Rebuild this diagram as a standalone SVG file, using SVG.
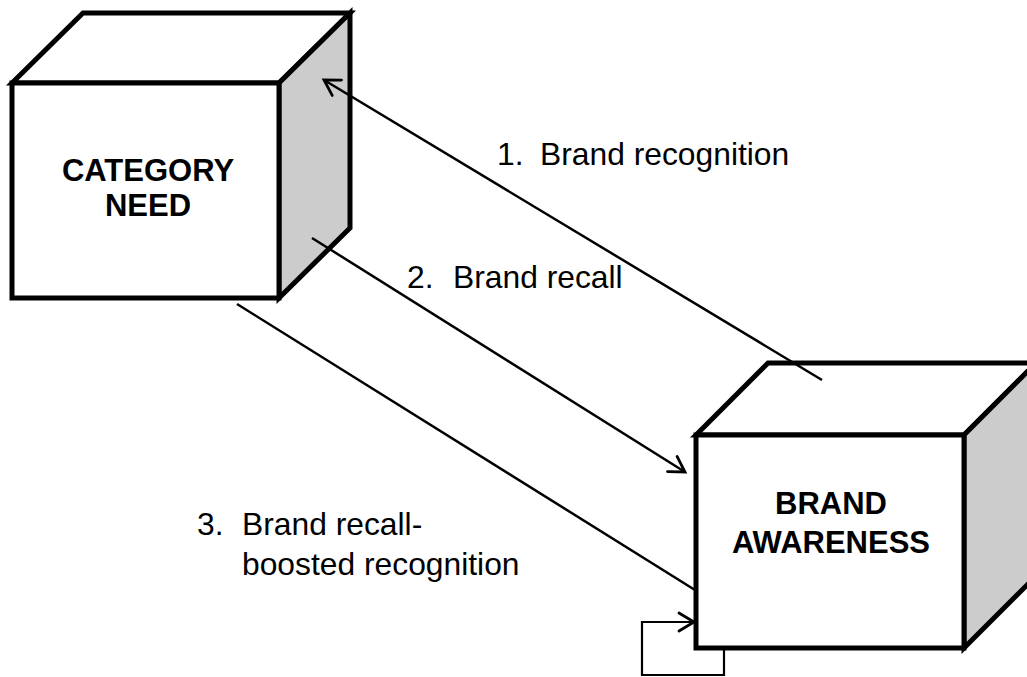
<svg xmlns="http://www.w3.org/2000/svg" width="1027" height="677" viewBox="0 0 1027 677">
<defs>
<style>
.face{fill:#ffffff;stroke:#000;stroke-width:5;stroke-linejoin:miter}
.side{fill:#cccccc;stroke:#000;stroke-width:5;stroke-linejoin:miter}
.title{font-family:"Liberation Sans",Arial,sans-serif;font-weight:bold;font-size:31px;fill:#000;text-anchor:middle}
.lbl{font-family:"Liberation Sans",Arial,sans-serif;font-size:31.8px;fill:#000}
.conn{fill:none;stroke:#000;stroke-width:2.5}
.loop{fill:none;stroke:#000;stroke-width:2.2}
</style>
<marker id="arr" markerUnits="userSpaceOnUse" markerWidth="30" markerHeight="30" viewBox="-20 -15 30 30" refX="0" refY="0" orient="auto" overflow="visible">
<path d="M-15,-9 L0,0 L-15,9" fill="none" stroke="#000" stroke-width="2.8" stroke-linecap="round" stroke-linejoin="miter"/>
</marker>
</defs>
<rect width="1027" height="677" fill="#ffffff"/>
<g id="category-need">
<polygon class="face" points="12,83 83,13 350,13 279,83"/>
<polygon class="side" points="279,83 350,13 350,228 279,298"/>
<rect class="face" x="12" y="83" width="267" height="215"/>
<text class="title" x="148" y="181">CATEGORY</text>
<text class="title" x="148" y="216">NEED</text>
</g>
<g id="brand-awareness">
<polygon class="face" points="696,435 768,363 1036,363 964,435"/>
<polygon class="side" points="964,435 1036,363 1036,576 964,648"/>
<rect class="face" x="696" y="435" width="268" height="213"/>
<text class="title" x="831" y="514">BRAND</text>
<text class="title" x="831" y="553">AWARENESS</text>
</g>
<g id="connectors">
<line class="conn" x1="822" y1="380" x2="324" y2="80" marker-end="url(#arr)"/>
<line class="conn" x1="312" y1="238" x2="685" y2="472" marker-end="url(#arr)"/>
<line class="conn" x1="237" y1="304" x2="695" y2="590"/>
<path class="loop" d="M724,650 V675 H642 V622 H694" marker-end="url(#arr)"/>
</g>
<g id="labels">
<text class="lbl" y="165"><tspan x="497">1.</tspan><tspan x="540">Brand recognition</tspan></text>
<text class="lbl" y="288"><tspan x="407">2.</tspan><tspan x="453">Brand recall</tspan></text>
<text class="lbl" y="535"><tspan x="197">3.</tspan><tspan x="242">Brand recall-</tspan></text>
<text class="lbl" x="242" y="575">boosted recognition</text>
</g>
</svg>
